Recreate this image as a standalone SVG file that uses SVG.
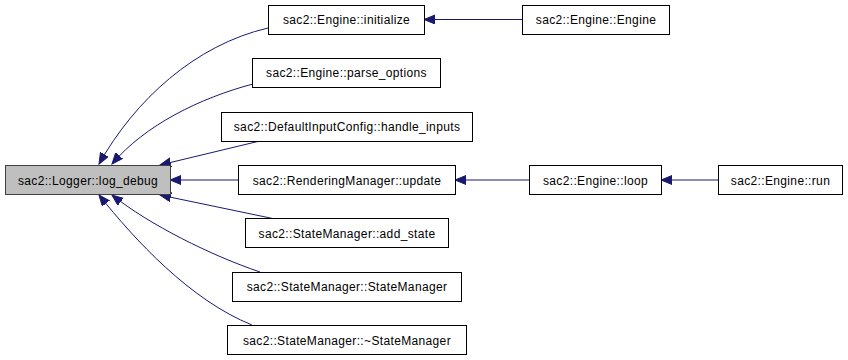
<svg xmlns="http://www.w3.org/2000/svg" width="848" height="360" viewBox="0 0 848 360">
  <style>
    .box { fill: #ffffff; stroke: #000000; stroke-width: 1; }
    .focus { fill: #bfbfbf; stroke: #404040; stroke-width: 1; }
    .label { font-family: "Liberation Sans", Helvetica, Arial, sans-serif; font-size: 12px; letter-spacing: 0.35px; text-anchor: middle; fill: #000000; }
    .edge { fill: none; stroke: #191970; stroke-width: 1; marker-end: url(#arrow); }
  </style>
  <defs>
    <marker id="arrow" markerUnits="userSpaceOnUse" markerWidth="12" markerHeight="10" refX="11" refY="4.5" orient="auto">
      <path d="M0,0 L11,4.5 L0,9 z" fill="#191970" stroke="#191970" stroke-width="1"/>
    </marker>
  </defs>
  <rect width="848" height="360" fill="#ffffff"/>

  <!-- call edges (caller -> callee, arrowhead at callee) -->
  <g id="edges">
    <path class="edge" d="M268,28 C195,45 135,100 99,164"/>
    <path class="edge" d="M253,84 C200,98 145,125 112,164"/>
    <path class="edge" d="M264,140 L160,165"/>
    <path class="edge" d="M238,180 L170,180"/>
    <path class="edge" d="M275,219 L160,195"/>
    <path class="edge" d="M260,272 C210,255 150,225 112,195"/>
    <path class="edge" d="M252,325 C190,300 135,240 99,195"/>
    <path class="edge" d="M522,19.5 L424,19.5"/>
    <path class="edge" d="M529,180 L455,180"/>
    <path class="edge" d="M718,180 L661,180"/>
  </g>

  <g id="log_debug">
    <rect class="focus" x="5.5" y="165.5" width="165" height="29"/>
    <text class="label" x="88" y="184.5">sac2::Logger::log_debug</text>
  </g>
  <g id="initialize">
    <rect class="box" x="268.5" y="5.5" width="156" height="29"/>
    <text class="label" x="346.5" y="24">sac2::Engine::initialize</text>
  </g>
  <g id="engine_ctor">
    <rect class="box" x="522.5" y="5.5" width="147" height="29"/>
    <text class="label" x="596" y="24">sac2::Engine::Engine</text>
  </g>
  <g id="parse_options">
    <rect class="box" x="252.5" y="58.5" width="188" height="29"/>
    <text class="label" x="346.5" y="77">sac2::Engine::parse_options</text>
  </g>
  <g id="handle_inputs">
    <rect class="box" x="221.5" y="112.5" width="251" height="29"/>
    <text class="label" x="347" y="131">sac2::DefaultInputConfig::handle_inputs</text>
  </g>
  <g id="rendering_update">
    <rect class="box" x="238.5" y="165.5" width="217" height="29"/>
    <text class="label" x="347" y="184.5">sac2::RenderingManager::update</text>
  </g>
  <g id="engine_loop">
    <rect class="box" x="529.5" y="165.5" width="132" height="29"/>
    <text class="label" x="595.5" y="184.5">sac2::Engine::loop</text>
  </g>
  <g id="engine_run">
    <rect class="box" x="718.5" y="165.5" width="124" height="29"/>
    <text class="label" x="780.5" y="184.5">sac2::Engine::run</text>
  </g>
  <g id="add_state">
    <rect class="box" x="245.5" y="218.5" width="203" height="29"/>
    <text class="label" x="347" y="237.5">sac2::StateManager::add_state</text>
  </g>
  <g id="state_manager_ctor">
    <rect class="box" x="232.5" y="272.5" width="229" height="29"/>
    <text class="label" x="347" y="291">sac2::StateManager::StateManager</text>
  </g>
  <g id="state_manager_dtor">
    <rect class="box" x="227.5" y="325.5" width="239" height="29"/>
    <text class="label" x="347" y="344.5">sac2::StateManager::~StateManager</text>
  </g>
</svg>
